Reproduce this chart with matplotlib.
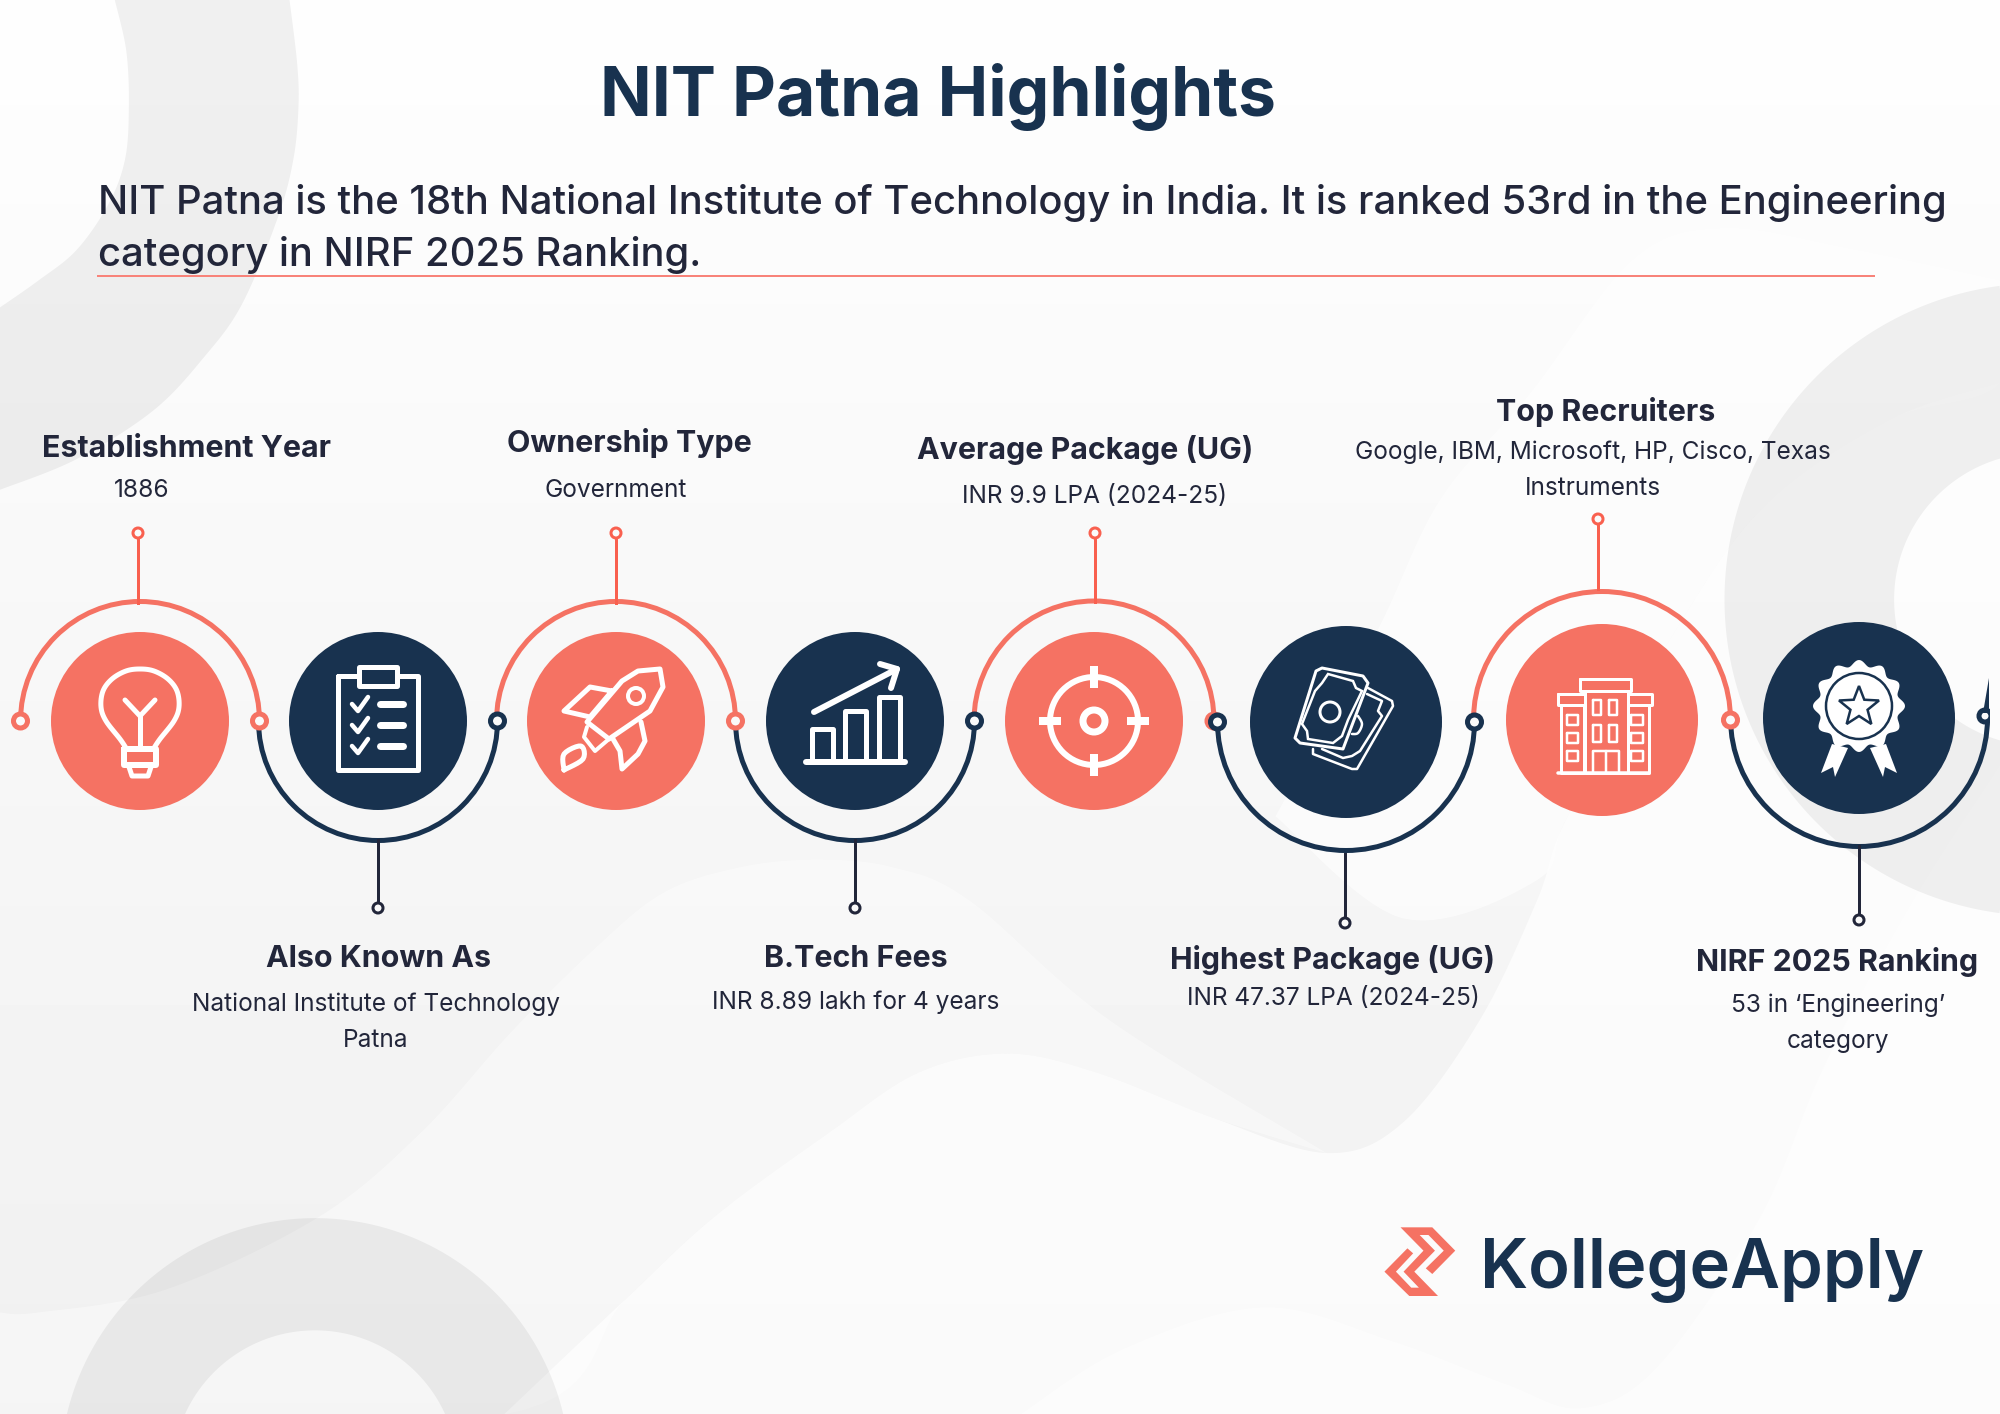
import numpy as np
import matplotlib
matplotlib.use("Agg")
import matplotlib.pyplot as plt
from matplotlib.patches import Circle, Polygon, Rectangle, Arc

# colours
NAVY = "#18324F"
CORAL = "#F57263"
STEM_RED = "#F9604F"
DARK = "#22263A"
PT = 72 / 200  # one pixel in points

# item texts
headings = ["Establishment Year", "Also Known As", "Ownership Type", "B.Tech Fees",
            "Average Package (UG)", "Highest Package (UG)", "Top Recruiters", "NIRF 2025 Ranking"]
details = ["1886", "National Institute of Technology\nPatna", "Government", "INR 8.89 lakh for 4 years",
           "INR 9.9 LPA (2024-25)", "INR 47.37 LPA (2024-25)",
           "Google, IBM, Microsoft, HP, Cisco, Texas\nInstruments", "53 in ‘Engineering’\ncategory"]
title = "NIT Patna Highlights"
intro = ["NIT Patna is the 18th National Institute of Technology in India. It is ranked 53rd in the Engineering",
         "category in NIRF 2025 Ranking."]
logo = "KollegeApply"

# layout of the timeline
circle_x = [140, 378, 616, 855, 1094, 1346, 1602, 1859]
circle_y = [721, 721, 721, 721, 721, 722, 720, 718]
circle_r = [89, 89, 89, 89, 89, 96, 96, 96]
arc_r = [119.5, 119.5, 119.5, 119.5, 120, 128.5, 128.5, 128.5]
stem_x = [138, 378, 616, 855, 1095, 1345, 1598, 1859]
stem_end = [533, 908, 533, 908, 533, 923, 519, 920]
head_pos = [(186, 457), (378, 967), (629, 452), (856, 967), (1085, 459), (1333, 969), (1606, 421), (1837, 971)]
detail_pos = [(142, 497), (376, 1011), (616, 497), (856, 1009), (1094, 503), (1333, 1005), (1593, 459), (1838, 1012)]

fig = plt.figure(figsize=(10, 7.07), dpi=200)
ax = fig.add_axes([0, 0, 1, 1])
ax.set_xlim(0, 2000)
ax.set_ylim(1414, 0)
ax.axis("off")


def smooth(pts, n=14):
    # catmull-rom curve through the points
    p = np.array(pts, dtype=float)
    p = np.vstack([p[0], p, p[-1]])
    out = []
    for i in range(1, len(p) - 2):
        for t in np.linspace(0, 1, n, endpoint=False):
            out.append(0.5 * (2 * p[i] + (p[i + 1] - p[i - 1]) * t
                              + (2 * p[i - 1] - 5 * p[i] + 4 * p[i + 1] - p[i + 2]) * t ** 2
                              + (3 * p[i] - p[i - 1] - 3 * p[i + 1] + p[i + 2]) * t ** 3))
    out.append(p[-2])
    return np.array(out)


S = 2000 / 1568


def blob(curve, back, color, alpha, z=1):
    # filled shape: smooth curve on one side, a second smooth curve back
    pts = np.vstack([smooth(curve), smooth(back)]) * S
    ax.add_patch(Polygon(pts, closed=True, fc=color, ec="none", alpha=alpha, zorder=z))


def ring(outer, inner, color="#000000", alpha=0.055):
    pts = np.vstack([smooth(outer), smooth(inner)[::-1]]) * S
    ax.add_patch(Polygon(pts, closed=True, fc=color, ec="none", alpha=alpha, zorder=2))


def round_ring(cx, cy, r0, r1, t0, t1, clip_bottom=None, color="#000000", alpha=0.055):
    # band between two concentric circles, in the 1568 wide sketch scale
    t = np.radians(np.linspace(t0, t1, 160))
    a = np.c_[cx + r0 * np.cos(t), cy + r0 * np.sin(t)]
    b = np.c_[cx + r1 * np.cos(t), cy + r1 * np.sin(t)]
    ax.add_patch(Polygon(np.vstack([a, b[::-1]]) * S, closed=True, fc=color, ec="none", alpha=alpha, zorder=2))


# background
grad = np.linspace(254, 240, 256).reshape(-1, 1) / 255
ax.imshow(grad, cmap="gray", vmin=0, vmax=1, extent=[0, 2000, 1414, 0], aspect="auto", zorder=0)
ax.set_xlim(0, 2000)
ax.set_ylim(1414, 0)

h2_edge = [(395, 1109), (490, 1019), (560, 954), (650, 888), (720, 841), (790, 826), (860, 841), (950, 876),
           (1040, 904), (1100, 880), (1160, 800), (1205, 706), (1229, 640), (1304, 510), (1380, 400), (1480, 330), (1568, 300)]
blob([(0, 1029), (30, 1029), (130, 1011), (250, 954), (330, 888), (400, 810), (465, 745), (520, 700),
      (580, 680), (640, 674), (700, 680), (760, 706), (870, 800), (1040, 904)],
     h2_edge[8::-1] + [(0, 1109)], "white", 0.4)
blob(h2_edge, [(1568, 300), (1568, 1109), (395, 1109)], "white", 0.7)
blob([(800, 1109), (880, 1058), (990, 1025), (1090, 1051), (1180, 1085), (1240, 1104), (1300, 1071),
      (1380, 954), (1430, 836), (1500, 706), (1568, 600)],
     [(1568, 600), (1568, 1109), (800, 1109)], "white", 0.5)
blob([(1000, 640), (1079, 496), (1129, 392), (1200, 308), (1280, 204), (1350, 179), (1450, 195), (1568, 220)],
     [(1568, 220), (1568, 300), (1480, 330), (1380, 400), (1304, 510), (1229, 640), (1205, 690), (1100, 720), (1000, 640)], "white", 0.6)

ring([(227, 0), (233, 50), (234, 84), (230, 125), (218, 170), (190, 238), (160, 280), (120, 322), (60, 360), (0, 384)],
     [(90, 0), (99, 40), (101, 84), (98, 125), (85, 160), (60, 196), (30, 220), (0, 241)])
round_ring(1600, 470, 248, 115, 97.5, 262.5)
# bottom left arch, cut by the page bottom
t_limit = np.degrees(np.arcsin(46 / 112))
arch_t = np.radians(np.linspace(180 + t_limit, 360 - t_limit, 100))
arch_o = np.radians(np.linspace(180 + np.degrees(np.arcsin(46 / 200)), 360 - np.degrees(np.arcsin(46 / 200)), 100))
arch = np.vstack([np.c_[247 + 200 * np.cos(arch_o), 1155 + 200 * np.sin(arch_o)],
                  np.c_[247 + 112 * np.cos(arch_t), 1155 + 112 * np.sin(arch_t)][::-1]])
ax.add_patch(Polygon(arch * S, closed=True, fc="#000000", ec="none", alpha=0.055, zorder=2))

# header
FONT = "Inter"
ax.text(600, 116, title, fontsize=24.4, fontweight="bold", color=NAVY, family=FONT, ha="left", va="baseline", zorder=6)
ax.text(98, 214, intro[0], fontsize=14.4, fontweight="medium", color=DARK, family=FONT, ha="left", va="baseline", zorder=6)
ax.text(98, 266, intro[1], fontsize=14.4, fontweight="medium", color=DARK, family=FONT, ha="left", va="baseline", zorder=6)
ax.plot([98, 1874], [276, 276], color="#F8837A", lw=2 * PT, zorder=5)


def stroke(cx, cy, pts, color="white", lw=5.0, closed=False, z=8):
    p = np.array(pts, dtype=float) + [cx, cy]
    if closed:
        p = np.vstack([p, p[0]])
    ax.plot(p[:, 0], p[:, 1], color=color, lw=lw * PT, solid_capstyle="round", solid_joinstyle="round", zorder=z)


def box(cx, cy, x0, x1, y0, y1, lw=3.0, color="white"):
    stroke(cx, cy, [(x0, y0), (x1, y0), (x1, y1), (x0, y1)], color=color, lw=lw, closed=True)


def dot(cx, cy, r, lw=5.0, color="white", fc="none"):
    ax.add_patch(Circle((cx, cy), r, fc=fc, ec=color, lw=lw * PT, zorder=8))


def icon_bulb(cx, cy, bg):
    left = [(-14, 27), (-20, 18), (-34, 0), (-39, -14), (-37, -30), (-28, -42), (-14, -50), (0, -52)]
    right = [(-x, y) for x, y in left[::-1]]
    stroke(cx, cy, smooth(left + right[1:], 8))
    stroke(cx, cy, [(-15, -21), (0, -5), (15, -21)])
    stroke(cx, cy, [(0, -5), (0, 27)])
    box(cx, cy, -16, 16, 28, 44, lw=6)
    stroke(cx, cy, [(-11, 46), (-8, 55), (8, 55), (11, 46)], lw=5)


def icon_board(cx, cy, bg):
    box(cx, cy, -40, 40, -45, 49, lw=5)
    ax.add_patch(Rectangle((cx - 19, cy - 54), 38, 19, fc=bg, ec="white", lw=5 * PT, zorder=9, joinstyle="round"))
    for dy in [-17, 4, 25]:
        stroke(cx, cy, [(-26, dy), (-20, dy + 7), (-10, dy - 7)], lw=4.5)
        stroke(cx, cy, [(2, dy), (25, dy)], lw=7)


def icon_rocket(cx, cy, bg):
    stroke(cx, cy, [(-4, -30), (-26, -34), (-52, -10), (-26, -4)], lw=5, closed=True)
    stroke(cx, cy, [(25, 1), (29, 20), (22, 33), (6, 48), (4, 30), (-3, 18)], lw=5)
    stroke(cx, cy, [(-29, 6), (-32, 16), (-21, 30), (-7, 18)], lw=4)
    stroke(cx, cy, smooth([(-52, 49), (-52, 33), (-35, 25), (-33, 38), (-52, 49)], 6), lw=5)
    body = [(44, -52), (47, -34), (34, -10), (-7, 18), (-29, 1), (6, -40), (22, -50)]
    ax.add_patch(Polygon(np.array(body) + [cx, cy], closed=True, fc=bg, ec="white", lw=5 * PT, zorder=9, joinstyle="round"))
    ax.add_patch(Circle((cx + 20, cy - 25), 8, fc=bg, ec="white", lw=4 * PT, zorder=9))


def icon_bars(cx, cy, bg):
    stroke(cx, cy, [(-49, 41), (50, 41)], lw=6)
    for x0, x1, top in [(-43, -22, 8), (-10, 11, -10), (24, 45, -24)]:
        stroke(cx, cy, [(x0, 41), (x0, top), (x1, top), (x1, 41)], lw=5)
    stroke(cx, cy, [(-41, -9), (42, -52)], lw=6)
    stroke(cx, cy, [(25, -57), (42, -52), (36, -33)], lw=6)


def icon_target(cx, cy, bg):
    dot(cx, cy, 44, lw=6)
    dot(cx, cy, 11, lw=7)
    for a in range(4):
        c, s = np.cos(a * np.pi / 2), np.sin(a * np.pi / 2)
        ax.plot([cx + 33 * c, cx + 55 * c], [cy + 33 * s, cy + 55 * s], color="white", lw=8 * PT, zorder=8, solid_capstyle="butt")


def icon_money(cx, cy, bg):
    stroke(cx, cy, [(22, -34), (46, -21), (47, -16), (11, 47), (6, 47), (-33, 32), (-33, 27)], lw=2.5)
    stroke(cx, cy, [(21, -28), (36, -21), (32, -11), (36, -6), (14, 29), (6, 34), (-3, 36), (-24, 27)], lw=2.5)
    stroke(cx, cy, smooth([(12, -6), (16, 2), (12, 11), (6, 12)], 6), lw=2.5)
    front = np.array([(-30, -51), (-24, -54), (17, -46), (22, -39), (-3, 27), (-46, 21), (-51, 16)])
    ax.add_patch(Polygon(front + [cx, cy], closed=True, fc=bg, ec="white", lw=3 * PT, zorder=9, joinstyle="round"))
    inner = [(-18, -48), (7, -41), (10, -34), (16, -31), (2, -2), (-4, 14), (-13, 21), (-38, 17), (-39, 9), (-44, 2), (-31, -31), (-24, -39)]
    ax.add_patch(Polygon(np.array(inner) + [cx, cy], closed=True, fc="none", ec="white", lw=2.5 * PT, zorder=10))
    ax.add_patch(Circle((cx - 16, cy - 10), 10, fc="none", ec="white", lw=3 * PT, zorder=10))


def icon_building(cx, cy, bg):
    box(cx, cy, -22, 29, -41, -29)
    box(cx, cy, -17, 26, -29, 53)
    box(cx, cy, -41, -18, -15, 53)
    box(cx, cy, 26, 47, -15, 53)
    box(cx, cy, -44, -17, -26, -15)
    box(cx, cy, 26, 50, -26, -15)
    stroke(cx, cy, [(-44, 53), (47, 53)], lw=3.5)
    for x0, x1 in [(-9, -1), (7, 15)]:
        box(cx, cy, x0, x1, -20, -5, lw=2.5)
        box(cx, cy, x0, x1, 5, 22, lw=2.5)
    for y0, y1 in [(-5, 5), (13, 23), (31, 41)]:
        box(cx, cy, -35, -24, y0, y1, lw=2.5)
        box(cx, cy, 29, 41, y0, y1, lw=2.5)
    stroke(cx, cy, [(-9, 53), (-9, 31), (17, 31), (17, 53)], lw=2.5)
    stroke(cx, cy, [(4, 31), (4, 53)], lw=2.5)


def icon_badge(cx, cy, bg):
    for m in [1, -1]:
        ax.add_patch(Polygon(np.array([(-11 * m, 30), (-24 * m, 59), (-26 * m, 49), (-38 * m, 55), (-27 * m, 26)]) + [cx, cy],
                             closed=True, fc="white", ec="none", zorder=8))
    t = np.linspace(0, 2 * np.pi, 240)
    r = 43 + 3 * np.cos(12 * t)
    ax.fill(cx + r * np.sin(t), cy - 12 - r * np.cos(t), fc="white", ec="none", zorder=8)
    ax.add_patch(Circle((cx, cy - 12), 33, fc="none", ec=bg, lw=2.5 * PT, zorder=9))
    a = np.arange(10) * np.pi / 5
    rad = np.where(np.arange(10) % 2 == 0, 21, 9)
    ax.add_patch(Polygon(np.c_[cx + rad * np.sin(a), cy - 11 - rad * np.cos(a)], closed=True, fc="none", ec=bg, lw=2.5 * PT, zorder=9))


icons = [icon_bulb, icon_board, icon_rocket, icon_bars, icon_target, icon_money, icon_building, icon_badge]

# timeline: arcs first, then stems, discs, nodes
for i, (x, y, r, a, sx, end, hp, dp) in enumerate(zip(circle_x, circle_y, circle_r, arc_r, stem_x, stem_end, head_pos, detail_pos)):
    upper = i % 2 == 0
    col = CORAL if upper else NAVY
    # y axis is inverted, so angles run the other way round
    t1, t2 = (180, 360) if upper else (0, 180)
    ax.add_patch(Arc((x, y), 2 * a, 2 * a, theta1=t1, theta2=t2, color=col, lw=5 * PT, zorder=4))
    sign = -1 if upper else 1
    start = y + sign * (a - 1) if i not in (5, 6) else y + sign * (a + 3)
    ax.plot([sx, sx], [start, end], color=STEM_RED if upper else DARK, lw=3 * PT, zorder=4)
    ax.add_patch(Circle((sx, end), 5, fc="#FAFAFA", ec=STEM_RED if upper else DARK, lw=3 * PT, zorder=5))
    ax.add_patch(Circle((x, y), r, fc=col, ec="none", zorder=6))
    icons[i](x, y, col)

    ax.text(hp[0], hp[1], headings[i], fontsize=10.95, fontweight="bold", color=DARK, family=FONT, ha="center", va="baseline", zorder=6)
    for k, line in enumerate(details[i].split("\n")):
        ax.text(dp[0], dp[1] + k * 36, line, fontsize=8.8, color=DARK, family=FONT, ha="center", va="baseline", zorder=6)

# end nodes: the first left end, then the right end of every arc
ax.add_patch(Circle((circle_x[0] - arc_r[0], circle_y[0]), 7, fc="#FAFAFA", ec=CORAL, lw=5 * PT, zorder=7))
for k in range(7):
    col = CORAL if k % 2 == 0 else NAVY
    ax.add_patch(Circle((circle_x[k] + arc_r[k], circle_y[k]), 7, fc="#FAFAFA", ec=col, lw=5 * PT, zorder=7))
ax.add_patch(Circle((circle_x[5] - arc_r[5], circle_y[5]), 7, fc="#FAFAFA", ec=NAVY, lw=5 * PT, zorder=7.5))

# last node is cut off by the group edge, with a sliver of the arc above it
edge = Rectangle((1900, 600), 89.5, 200, transform=ax.transData)
last = Circle((1985, 716), 6, fc="#FAFAFA", ec=NAVY, lw=5 * PT, zorder=7)
ax.add_patch(last)
last.set_clip_path(edge)
ax.add_patch(Polygon([(1989, 678), (1983, 713), (1989, 713)], closed=True, fc=NAVY, ec="none", zorder=7))

# logo
ax.text(1480, 1288, logo, fontsize=24.7, fontweight="semibold", color=NAVY, family=FONT, ha="left", va="baseline", zorder=6)
mark_x = [132, 215, 275, 215, 198, 245, 205, 182, 222, 168, 230, 155, 90, 150, 165, 120, 160, 180, 140, 192]
mark_y = [82, 82, 152, 222, 205, 152, 105, 105, 152, 215, 288, 288, 215, 145, 160, 215, 263, 263, 215, 152]
mark = np.c_[1350 + np.array(mark_x) / 2.613, 1200 + np.array(mark_y) / 3]
ax.add_patch(Polygon(mark, closed=True, fc=CORAL, ec="none", zorder=6))

fig.savefig("out.png", dpi=200)
